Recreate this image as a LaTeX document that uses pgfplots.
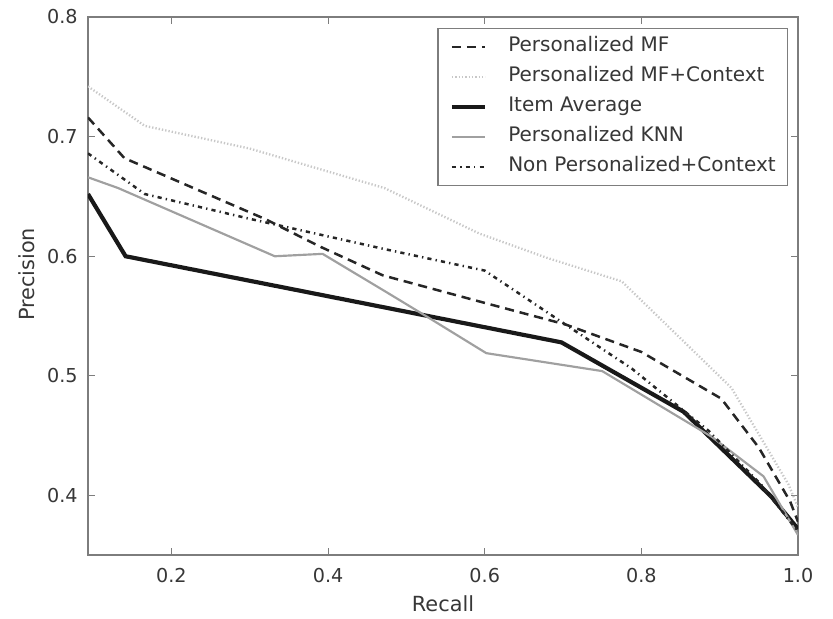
\documentclass[border=0pt]{standalone}
\usepackage{pgfplots}
\pgfplotsset{compat=1.18}
\usepackage{fontspec}
\setmainfont{DejaVu Sans}
\definecolor{lgray}{RGB}{200,200,200}
\definecolor{mgray}{RGB}{160,160,160}
\definecolor{frame}{RGB}{125,125,125}
\definecolor{txt}{RGB}{55,55,55}

\begin{document}
\begin{tikzpicture}
% keep the reference margins around the axis box
\useasboundingbox (-52.8pt,-37.8pt) rectangle (447pt,333.2pt);
\begin{axis}[
  at={(0,0)}, anchor=south west,
  scale only axis, width=426pt, height=323pt,
  xmin=0.0935, xmax=1.0, ymin=0.35, ymax=0.8,
  xtick={0.2,0.4,0.6,0.8,1.0}, ytick={0.4,0.5,0.6,0.7,0.8},
  /pgf/number format/fixed, /pgf/number format/fixed zerofill,
  /pgf/number format/precision=1,
  /pgf/number format/assume math mode=true,
  tick label style={font=\fontsize{11.5}{13}\selectfont, text=txt, inner sep=0pt},
  xticklabel style={anchor=north, yshift=-7.5pt},
  yticklabel style={anchor=east, xshift=-6pt},
  xlabel={Recall}, ylabel={Precision},
  every axis x label/.style={at={(rel axis cs:0.5,0)}, yshift=-28.8pt, anchor=center,
    font=\fontsize{12.5}{14}\selectfont, text=txt},
  every axis y label/.style={at={(rel axis cs:0,0.5)}, xshift=-36.6pt, yshift=7pt,
    rotate=90, anchor=center, font=\fontsize{12.5}{14}\selectfont, text=txt},
  tick align=inside, major tick length=4.5pt,
  axis line style={frame, line width=1pt},
  tick style={frame, line width=0.6pt},
  legend style={at={(rel axis cs:1,1)}, xshift=-6pt, yshift=-6.6pt, anchor=north east,
    draw=frame, line width=0.8pt, font=\fontsize{12}{14}\selectfont, text=txt,
    inner xsep=7pt, inner ysep=5pt, row sep=6pt, column sep=12.6pt,
    nodes={inner sep=0pt, text height=9pt, text depth=3pt}},
  legend cell align=left,
  legend image code/.code={\draw[#1] (0pt,0pt) -- (20pt,0pt);},
]
\addplot[black!85, line width=1.5pt, dash pattern=on 5.5pt off 3.5pt] coordinates {
(0.0935,0.716)(0.14,0.682)(0.2,0.665)(0.32,0.631)(0.39,0.608)(0.47,0.584)(0.6,0.561)(0.703,0.543)(0.8,0.52)(0.902,0.481)(0.95,0.44)(0.99,0.395)(1.0,0.378)};
\addplot[lgray, line width=1.4pt, dash pattern=on 0.8pt off 1.2pt] coordinates {
(0.0935,0.742)(0.166,0.709)(0.3,0.69)(0.472,0.657)(0.593,0.619)(0.678,0.599)(0.775,0.579)(0.915,0.49)(0.988,0.409)(1.0,0.39)};
\addplot[black!90, line width=2.5pt] coordinates {
(0.0935,0.652)(0.1415,0.6)(0.698,0.528)(0.854,0.47)(0.966,0.399)(1.0,0.372)};
\addplot[mgray, line width=1.3pt] coordinates {
(0.0935,0.666)(0.132,0.657)(0.332,0.6)(0.393,0.602)(0.472,0.571)(0.525,0.55)(0.602,0.519)(0.75,0.504)(0.89,0.449)(0.956,0.416)(1.0,0.367)};
\addplot[black!85, line width=1.5pt, dash pattern=on 2.5pt off 2.5pt on 0.8pt off 2.5pt] coordinates {
(0.0935,0.686)(0.166,0.652)(0.302,0.631)(0.472,0.606)(0.6,0.588)(0.703,0.543)(0.788,0.506)(0.886,0.454)(0.953,0.409)(1.0,0.37)};
\legend{Personalized MF, Personalized MF+Context, Item Average, Personalized KNN, Non Personalized+Context}
\end{axis}
\end{tikzpicture}
\end{document}
